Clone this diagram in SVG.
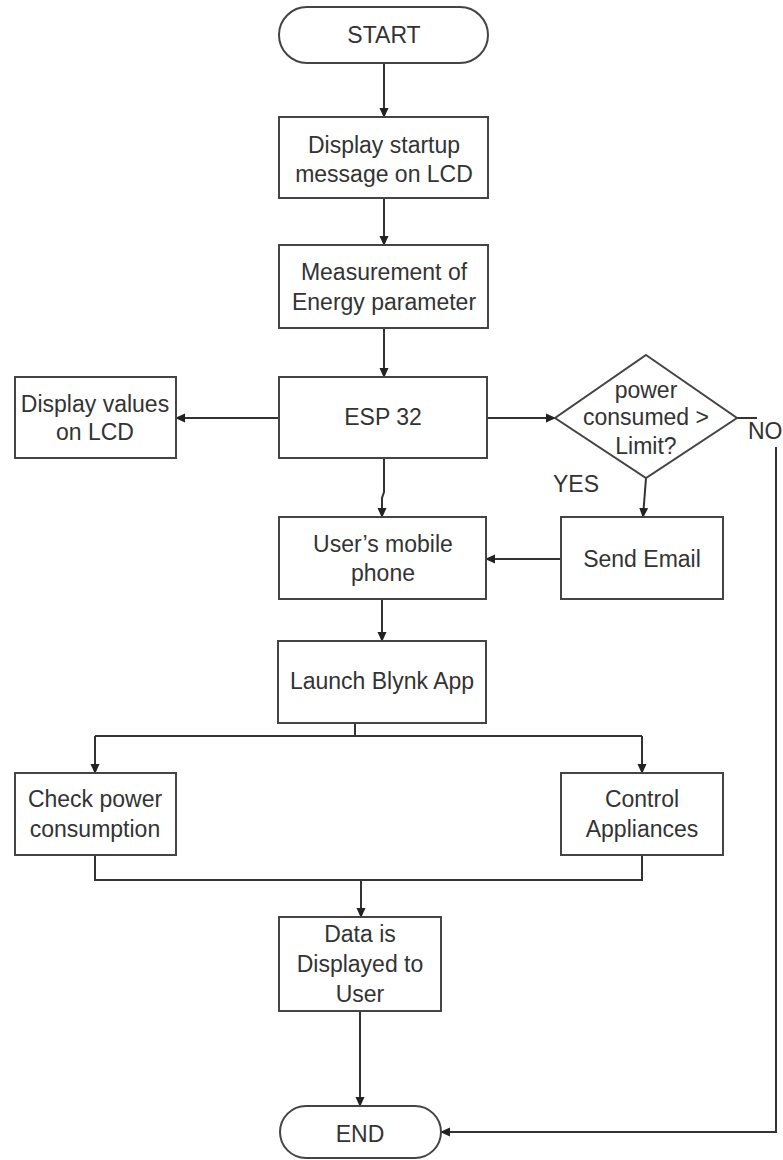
<svg xmlns="http://www.w3.org/2000/svg" width="783" height="1160" viewBox="0 0 783 1160">
<defs>
<marker id="arr" markerWidth="10" markerHeight="10" refX="9" refY="5" orient="auto" markerUnits="userSpaceOnUse">
<path d="M0,0.5 L10,5 L0,9.5 Z" fill="#222"/>
</marker>
<style>
.box{fill:#fff;stroke:#444;stroke-width:2}
.t{font-family:"Liberation Sans",Arial,sans-serif;font-size:23px;fill:#333;text-anchor:middle}
.l{font-family:"Liberation Sans",Arial,sans-serif;font-size:23px;fill:#333}
.c{fill:none;stroke:#333;stroke-width:2}
.a{fill:none;stroke:#333;stroke-width:2;marker-end:url(#arr)}
</style>
</defs>
<rect width="783" height="1160" fill="#fff"/>
<g id="connectors">
<line class="a" x1="384" y1="63" x2="384" y2="117"/>
<line class="a" x1="384" y1="198" x2="384" y2="245"/>
<line class="a" x1="384" y1="328" x2="384" y2="377"/>
<line class="a" x1="279" y1="418" x2="176" y2="418"/>
<line class="a" x1="487" y1="418" x2="555" y2="418"/>
<polyline class="a" points="384,458 384,492 382,498 382,517"/>
<line class="a" x1="646" y1="478" x2="643" y2="517"/>
<line class="a" x1="561" y1="559" x2="486" y2="559"/>
<line class="a" x1="382" y1="599" x2="382" y2="641"/>
<line class="c" x1="355" y1="705" x2="355" y2="736"/>
<line class="c" x1="95" y1="736" x2="642" y2="736"/>
<line class="a" x1="95" y1="736" x2="95" y2="773"/>
<line class="a" x1="642" y1="736" x2="642" y2="773"/>
<polyline class="c" points="95,855 95,880 642,880 642,855"/>
<line class="a" x1="361" y1="880" x2="361" y2="917"/>
<line class="a" x1="360" y1="1011" x2="360" y2="1106"/>
<line class="c" x1="737" y1="418" x2="757" y2="418"/>
<polyline class="a" points="776,447 776,1132 441,1132"/>
<text class="l" x="553" y="492">YES</text>
<text class="l" x="748" y="439">NO</text>
</g>
<g id="start">
<rect class="box" x="279" y="7" width="209" height="56" rx="28" ry="28"/>
<text class="t" x="384" y="43">START</text>
</g>
<g id="display-startup">
<rect class="box" x="279" y="117" width="209" height="81"/>
<text class="t" x="384" y="153">Display startup</text>
<text class="t" x="384" y="182">message on LCD</text>
</g>
<g id="measurement">
<rect class="box" x="279" y="245" width="209" height="83"/>
<text class="t" x="384" y="280">Measurement of</text>
<text class="t" x="384" y="310">Energy parameter</text>
</g>
<g id="esp32">
<rect class="box" x="279" y="377" width="208" height="81"/>
<text class="t" x="383" y="425">ESP 32</text>
</g>
<g id="display-values">
<rect class="box" x="15" y="377" width="161" height="81"/>
<text class="t" x="95" y="412">Display values</text>
<text class="t" x="95" y="440">on LCD</text>
</g>
<g id="decision">
<polygon class="box" points="646,355 737,418 646,478 555,418"/>
<text class="t" x="646" y="398">power</text>
<text class="t" x="646" y="425">consumed &gt;</text>
<text class="t" x="646" y="454">Limit?</text>
</g>
<g id="send-email">
<rect class="box" x="561" y="517" width="162" height="82"/>
<text class="t" x="642" y="567">Send Email</text>
</g>
<g id="user-mobile">
<rect class="box" x="279" y="517" width="207" height="82"/>
<text class="t" x="383" y="552">User’s mobile</text>
<text class="t" x="383" y="581">phone</text>
</g>
<g id="launch-blynk">
<rect class="box" x="278" y="641" width="208" height="82"/>
<text class="t" x="382" y="689">Launch Blynk App</text>
</g>
<g id="check-power">
<rect class="box" x="15" y="773" width="161" height="82"/>
<text class="t" x="95" y="807">Check power</text>
<text class="t" x="95" y="837">consumption</text>
</g>
<g id="control-appliances">
<rect class="box" x="561" y="773" width="162" height="82"/>
<text class="t" x="642" y="807">Control</text>
<text class="t" x="642" y="837">Appliances</text>
</g>
<g id="data-displayed">
<rect class="box" x="279" y="917" width="162" height="94"/>
<text class="t" x="360" y="942">Data is</text>
<text class="t" x="360" y="972">Displayed to</text>
<text class="t" x="360" y="1002">User</text>
</g>
<g id="end">
<rect class="box" x="280" y="1106" width="161" height="52" rx="26" ry="26"/>
<text class="t" x="360" y="1142">END</text>
</g>
</svg>
